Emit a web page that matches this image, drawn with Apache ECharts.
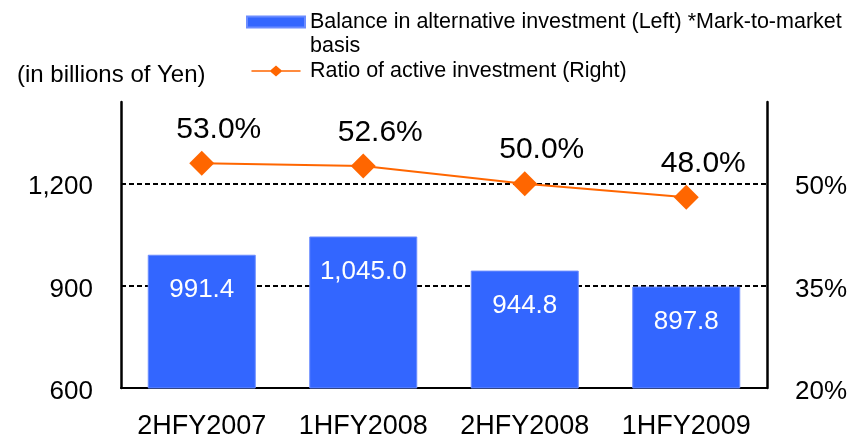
<!DOCTYPE html>
<html>
<head>
<meta charset="utf-8">
<script src="https://cdn.jsdelivr.net/npm/echarts@6/dist/echarts.min.js"></script>
<style>
  html, body { margin: 0; padding: 0; background: #fff; }
  #chart { width: 860px; height: 440px; }
</style>
</head>
<body>
<div id="chart"></div>
<script>
// Half-year periods
const categories = ['2HFY2007', '1HFY2008', '2HFY2008', '1HFY2009'];
// Balance in alternative investment, billions of yen (left axis)
const balance = [991.4, 1045.0, 944.8, 897.8];
// Ratio of active investment, percent (right axis)
const ratio = [53.0, 52.6, 50.0, 48.0];
// Tick labels
const leftTicks = [600, 900, 1200];
const rightTicks = [20, 35, 50];

const barName = 'Balance in alternative investment (Left) *Mark-to-market\nbasis';
const lineName = 'Ratio of active investment (Right)';

const FONT = '"Liberation Sans", Arial, sans-serif';

function withCommas(v, digits) {
  const parts = v.toFixed(digits).split('.');
  parts[0] = parts[0].replace(/\B(?=(\d{3})+(?!\d))/g, ',');
  return parts.join('.');
}

// Legend glyph for the ratio line: a thin stroke with a diamond in the middle
const lineIcon = 'path://M0,4.7L58,4.7L58,6.3L0,6.3Z M29,-1L36.5,5.5L29,12L21.5,5.5Z';

// Axis tick text sits a little below its gridline
const tickRich = {
  t: { fontFamily: FONT, fontSize: 26, color: '#000', padding: [7, 0, 0, 0] }
};

const chart = echarts.init(document.getElementById('chart'), null, { renderer: 'canvas' });

chart.setOption({
  animation: false,
  backgroundColor: '#ffffff',
  textStyle: { fontFamily: FONT, color: '#000' },
  title: {
    text: '(in billions of Yen)',
    left: 17,
    top: 63,
    padding: 0,
    textStyle: { fontFamily: FONT, fontSize: 24, fontWeight: 'normal', color: '#000' }
  },
  legend: {
    orient: 'vertical',
    left: 246,
    top: -14,
    padding: 0,
    itemWidth: 58,
    itemHeight: 11,
    itemGap: 1,
    textStyle: { fontFamily: FONT, fontSize: 21.5, lineHeight: 24, color: '#000' },
    // leading blank line keeps the swatch level with the first text line
    formatter: name => (name === barName ? '\n' + name : name),
    data: [
      { name: barName, icon: 'rect' },
      { name: lineName, icon: lineIcon }
    ]
  },
  grid: { left: 121, right: 93, top: 102, bottom: 50, containLabel: false },
  xAxis: {
    type: 'category',
    data: categories,
    axisLine: { lineStyle: { color: '#000', width: 2 } },
    axisTick: { show: false },
    axisLabel: { fontFamily: FONT, fontSize: 27, color: '#000', margin: 25, interval: 0 }
  },
  yAxis: [
    {
      type: 'value',
      min: 600,
      max: 1440,
      interval: 300,
      axisLine: { show: true, lineStyle: { color: '#000', width: 2.5 } },
      axisTick: { show: false },
      axisLabel: {
        margin: 28,
        customValues: leftTicks,
        formatter: v => '{t|' + withCommas(v, 0) + '}',
        rich: tickRich
      },
      splitLine: {
        show: true,
        showMinLine: false,
        showMaxLine: false,
        lineStyle: { color: '#000', width: 2, type: [5, 3] }
      }
    },
    {
      type: 'value',
      min: 20,
      max: 62,
      position: 'right',
      axisLine: { show: true, lineStyle: { color: '#000', width: 2.5 } },
      axisTick: { show: false },
      axisLabel: {
        margin: 28,
        customValues: rightTicks,
        formatter: v => '{t|' + v + '%}',
        rich: tickRich
      },
      splitLine: { show: false }
    }
  ],
  series: [
    {
      name: barName,
      type: 'bar',
      yAxisIndex: 0,
      data: balance,
      barWidth: 108,
      itemStyle: { color: '#3366FF', borderColor: '#6b8cff', borderWidth: 1 },
      label: {
        show: true,
        position: 'insideTop',
        distance: 22,
        fontFamily: FONT,
        fontSize: 26,
        color: '#fff',
        formatter: p => withCommas(p.value, 1)
      },
      z: 2
    },
    {
      name: lineName,
      type: 'line',
      yAxisIndex: 1,
      data: ratio,
      symbol: 'diamond',
      symbolSize: 25,
      lineStyle: { color: '#FF6600', width: 2 },
      itemStyle: { color: '#FF6600' },
      label: {
        show: true,
        position: 'top',
        distance: 6,
        offset: [17, 0],
        fontFamily: FONT,
        fontSize: 30,
        color: '#000',
        formatter: p => p.value.toFixed(1) + '%'
      },
      z: 5
    }
  ]
});
</script>
</body>
</html>
